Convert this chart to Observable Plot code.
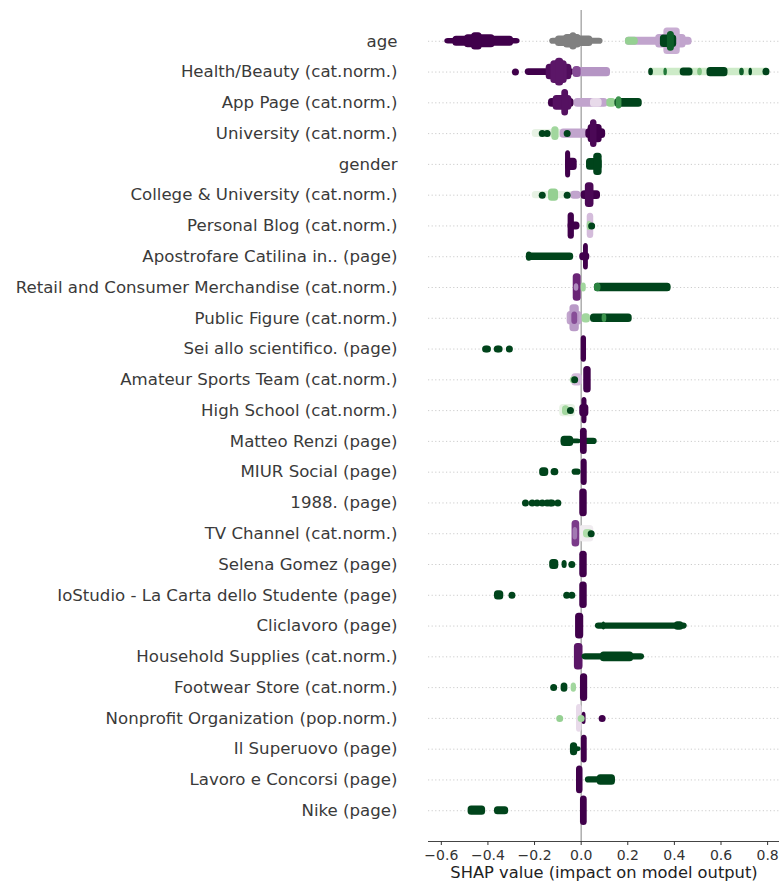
<!DOCTYPE html>
<html>
<head>
<meta charset="utf-8">
<script src="https://cdn.jsdelivr.net/npm/d3@7"></script>
<script src="https://cdn.jsdelivr.net/npm/@observablehq/plot@0.6"></script>
<style>
  html, body { margin: 0; padding: 0; background: #fff; }
  #chart { width: 779px; height: 885px; }
</style>
</head>
<body>
<div id="chart"></div>
<script>
// Feature names, top to bottom
const features = [
  "age",
  "Health/Beauty (cat.norm.)",
  "App Page (cat.norm.)",
  "University (cat.norm.)",
  "gender",
  "College & University (cat.norm.)",
  "Personal Blog (cat.norm.)",
  "Apostrofare Catilina in.. (page)",
  "Retail and Consumer Merchandise (cat.norm.)",
  "Public Figure (cat.norm.)",
  "Sei allo scientifico. (page)",
  "Amateur Sports Team (cat.norm.)",
  "High School (cat.norm.)",
  "Matteo Renzi (page)",
  "MIUR Social (page)",
  "1988. (page)",
  "TV Channel (cat.norm.)",
  "Selena Gomez (page)",
  "IoStudio - La Carta dello Studente (page)",
  "Cliclavoro (page)",
  "Household Supplies (cat.norm.)",
  "Footwear Store (cat.norm.)",
  "Nonprofit Organization (pop.norm.)",
  "Il Superuovo (page)",
  "Lavoro e Concorsi (page)",
  "Nike (page)"
];

// Dense swarm regions: [feature, shapFrom, shapTo, halfThickness (rows), featureValue 0=low..1=high]
const swarmBands = [
  ["age", -0.585, -0.262, 0.09, 0.0],
  ["age", -0.55, -0.29, 0.16, 0.0],
  ["age", -0.50, -0.37, 0.21, 0.0],
  ["age", -0.47, -0.425, 0.28, 0.0],
  ["age", 0.19, 0.476, 0.13, 0.3],
  ["age", 0.19, 0.245, 0.13, 0.72],
  ["age", 0.32, 0.45, 0.22, 0.3],
  ["age", 0.355, 0.425, 0.43, 0.32],
  ["age", 0.34, 0.41, 0.2, 1.0],
  ["age", 0.37, 0.40, 0.32, 0.95],

  ["Health/Beauty (cat.norm.)", -0.24, -0.03, 0.11, 0.0],
  ["Health/Beauty (cat.norm.)", -0.15, -0.04, 0.25, 0.03],
  ["Health/Beauty (cat.norm.)", -0.13, -0.06, 0.37, 0.05],
  ["Health/Beauty (cat.norm.)", -0.11, -0.075, 0.45, 0.05],
  ["Health/Beauty (cat.norm.)", -0.035, 0.126, 0.15, 0.27],
  ["Health/Beauty (cat.norm.)", -0.035, 0.0, 0.18, 0.15],
  ["Health/Beauty (cat.norm.)", 0.29, 0.81, 0.12, 0.62],
  ["Health/Beauty (cat.norm.)", 0.29, 0.31, 0.12, 1.0],
  ["Health/Beauty (cat.norm.)", 0.355, 0.37, 0.12, 0.9],
  ["Health/Beauty (cat.norm.)", 0.425, 0.48, 0.13, 1.0],
  ["Health/Beauty (cat.norm.)", 0.50, 0.52, 0.12, 0.75],
  ["Health/Beauty (cat.norm.)", 0.54, 0.63, 0.15, 1.0],
  ["Health/Beauty (cat.norm.)", 0.68, 0.70, 0.12, 0.95],
  ["Health/Beauty (cat.norm.)", 0.72, 0.735, 0.12, 1.0],
  ["Health/Beauty (cat.norm.)", 0.78, 0.81, 0.12, 1.0],

  ["App Page (cat.norm.)", -0.14, -0.03, 0.14, 0.0],
  ["App Page (cat.norm.)", -0.12, -0.04, 0.24, 0.04],
  ["App Page (cat.norm.)", -0.083, -0.054, 0.43, 0.04],
  ["App Page (cat.norm.)", -0.03, 0.115, 0.14, 0.3],
  ["App Page (cat.norm.)", 0.04, 0.09, 0.14, 0.42],
  ["App Page (cat.norm.)", 0.11, 0.15, 0.14, 0.72],
  ["App Page (cat.norm.)", 0.145, 0.262, 0.14, 1.0],
  ["App Page (cat.norm.)", 0.15, 0.175, 0.2, 0.85],

  ["University (cat.norm.)", -0.21, -0.06, 0.13, 0.55],
  ["University (cat.norm.)", -0.126, -0.095, 0.22, 0.7],
  ["University (cat.norm.)", -0.09, 0.03, 0.15, 0.3],
  ["University (cat.norm.)", 0.02, 0.105, 0.16, 0.0],
  ["University (cat.norm.)", 0.03, 0.09, 0.3, 0.0],
  ["University (cat.norm.)", 0.04, 0.068, 0.45, 0.02],

  ["gender", -0.067, -0.017, 0.2, 0.0],
  ["gender", -0.067, -0.045, 0.44, 0.0],
  ["gender", 0.023, 0.09, 0.19, 1.0],
  ["gender", 0.054, 0.09, 0.36, 1.0],

  ["College & University (cat.norm.)", -0.21, -0.03, 0.12, 0.55],
  ["College & University (cat.norm.)", -0.14, -0.097, 0.2, 0.72],
  ["College & University (cat.norm.)", -0.045, 0.0, 0.13, 0.3],
  ["College & University (cat.norm.)", 0.0, 0.083, 0.14, 0.0],
  ["College & University (cat.norm.)", 0.018, 0.055, 0.4, 0.02],

  ["Personal Blog (cat.norm.)", -0.056, -0.005, 0.13, 0.0],
  ["Personal Blog (cat.norm.)", -0.056, -0.029, 0.43, 0.0],
  ["Personal Blog (cat.norm.)", 0.026, 0.054, 0.41, 0.35],
  ["Personal Blog (cat.norm.)", 0.026, 0.045, 0.15, 0.7],

  ["Apostrofare Catilina in.. (page)", -0.235, -0.032, 0.12, 1.0],
  ["Apostrofare Catilina in.. (page)", -0.235, -0.21, 0.15, 1.0],
  ["Apostrofare Catilina in.. (page)", -0.006, 0.037, 0.13, 0.0],
  ["Apostrofare Catilina in.. (page)", 0.01, 0.031, 0.43, 0.0],

  ["Retail and Consumer Merchandise (cat.norm.)", -0.034, 0.0, 0.45, 0.08],
  ["Retail and Consumer Merchandise (cat.norm.)", -0.03, -0.01, 0.12, 0.25],
  ["Retail and Consumer Merchandise (cat.norm.)", 0.0, 0.022, 0.15, 0.7],
  ["Retail and Consumer Merchandise (cat.norm.)", 0.057, 0.386, 0.14, 1.0],
  ["Retail and Consumer Merchandise (cat.norm.)", 0.057, 0.085, 0.14, 0.88],

  ["Public Figure (cat.norm.)", -0.06, 0.004, 0.22, 0.3],
  ["Public Figure (cat.norm.)", -0.048, -0.008, 0.44, 0.28],
  ["Public Figure (cat.norm.)", -0.04, -0.015, 0.2, 0.15],
  ["Public Figure (cat.norm.)", 0.004, 0.04, 0.15, 0.7],
  ["Public Figure (cat.norm.)", 0.04, 0.219, 0.14, 1.0],
  ["Public Figure (cat.norm.)", 0.09, 0.11, 0.14, 0.85],

  ["Sei allo scientifico. (page)", 0.0, 0.023, 0.43, 0.0],

  ["Amateur Sports Team (cat.norm.)", -0.04, 0.005, 0.2, 0.35],
  ["Amateur Sports Team (cat.norm.)", 0.011, 0.043, 0.43, 0.0],

  ["High School (cat.norm.)", -0.092, -0.024, 0.2, 0.55],
  ["High School (cat.norm.)", -0.08, -0.05, 0.16, 0.7],
  ["High School (cat.norm.)", -0.006, 0.033, 0.2, 0.0],
  ["High School (cat.norm.)", 0.003, 0.025, 0.43, 0.0],

  ["Matteo Renzi (page)", -0.086, 0.0, 0.08, 1.0],
  ["Matteo Renzi (page)", -0.086, -0.032, 0.17, 1.0],
  ["Matteo Renzi (page)", 0.0, 0.069, 0.1, 1.0],
  ["Matteo Renzi (page)", -0.003, 0.026, 0.43, 0.0],

  ["MIUR Social (page)", -0.178, -0.139, 0.14, 1.0],
  ["MIUR Social (page)", -0.129, -0.096, 0.12, 1.0],
  ["MIUR Social (page)", -0.039, 0.0, 0.1, 1.0],
  ["MIUR Social (page)", 0.0, 0.026, 0.43, 0.0],

  ["1988. (page)", -0.006, 0.026, 0.45, 0.0],

  ["TV Channel (cat.norm.)", -0.006, 0.054, 0.27, 0.48],
  ["TV Channel (cat.norm.)", 0.01, 0.05, 0.14, 0.68],
  ["TV Channel (cat.norm.)", -0.039, -0.006, 0.43, 0.12],
  ["TV Channel (cat.norm.)", -0.035, -0.015, 0.2, 0.22],

  ["Selena Gomez (page)", -0.135, -0.096, 0.16, 1.0],
  ["Selena Gomez (page)", -0.082, -0.06, 0.13, 1.0],
  ["Selena Gomez (page)", -0.006, 0.026, 0.43, 0.0],

  ["IoStudio - La Carta dello Studente (page)", -0.372, -0.332, 0.15, 1.0],
  ["IoStudio - La Carta dello Studente (page)", -0.006, 0.026, 0.43, 0.0],

  ["Cliclavoro (page)", -0.024, 0.011, 0.42, 0.0],
  ["Cliclavoro (page)", 0.061, 0.455, 0.1, 1.0],
  ["Cliclavoro (page)", 0.40, 0.44, 0.14, 1.0],
  ["Cliclavoro (page)", 0.09, 0.105, 0.13, 1.0],

  ["Household Supplies (cat.norm.)", -0.029, 0.008, 0.43, 0.05],
  ["Household Supplies (cat.norm.)", 0.004, 0.272, 0.1, 1.0],
  ["Household Supplies (cat.norm.)", 0.083, 0.225, 0.16, 1.0],

  ["Footwear Store (cat.norm.)", -0.086, -0.057, 0.15, 1.0],
  ["Footwear Store (cat.norm.)", -0.043, -0.02, 0.15, 0.7],
  ["Footwear Store (cat.norm.)", -0.003, 0.028, 0.45, 0.0],

  ["Nonprofit Organization (pop.norm.)", -0.02, 0.004, 0.45, 0.42],
  ["Nonprofit Organization (pop.norm.)", 0.004, 0.021, 0.2, 0.0],

  ["Il Superuovo (page)", -0.046, 0.0, 0.08, 1.0],
  ["Il Superuovo (page)", -0.046, -0.015, 0.21, 1.0],
  ["Il Superuovo (page)", 0.001, 0.026, 0.45, 0.0],

  ["Lavoro e Concorsi (page)", -0.02, 0.008, 0.45, 0.0],
  ["Lavoro e Concorsi (page)", 0.018, 0.147, 0.1, 1.0],
  ["Lavoro e Concorsi (page)", 0.069, 0.147, 0.17, 1.0],

  ["Nike (page)", -0.485, -0.41, 0.15, 1.0],
  ["Nike (page)", -0.372, -0.311, 0.13, 1.0],
  ["Nike (page)", -0.003, 0.026, 0.48, 0.0]
];

// Points with missing feature value (drawn grey): [feature, from, to, halfThickness]
const missingBands = [
  ["age", -0.135, 0.094, 0.1],
  ["age", -0.11, 0.05, 0.17],
  ["age", -0.075, 0.0, 0.22],
  ["age", -0.048, -0.018, 0.28]
];

// Isolated points: [feature, shap, featureValue]
const singlePoints = [
  ["Health/Beauty (cat.norm.)", -0.282, 0.0],
  ["University (cat.norm.)", -0.167, 1.0],
  ["University (cat.norm.)", -0.146, 1.0],
  ["University (cat.norm.)", -0.06, 1.0],
  ["College & University (cat.norm.)", -0.167, 1.0],
  ["College & University (cat.norm.)", -0.06, 1.0],
  ["Personal Blog (cat.norm.)", 0.045, 1.0],
  ["Sei allo scientifico. (page)", -0.41, 1.0],
  ["Sei allo scientifico. (page)", -0.402, 1.0],
  ["Sei allo scientifico. (page)", -0.36, 1.0],
  ["Sei allo scientifico. (page)", -0.352, 1.0],
  ["Sei allo scientifico. (page)", -0.308, 1.0],
  ["Amateur Sports Team (cat.norm.)", -0.034, 0.7],
  ["Amateur Sports Team (cat.norm.)", -0.028, 1.0],
  ["High School (cat.norm.)", -0.046, 1.0],
  ["1988. (page)", -0.239, 1.0],
  ["1988. (page)", -0.21, 1.0],
  ["1988. (page)", -0.189, 1.0],
  ["1988. (page)", -0.167, 1.0],
  ["1988. (page)", -0.146, 1.0],
  ["1988. (page)", -0.133, 1.0],
  ["1988. (page)", -0.125, 1.0],
  ["1988. (page)", -0.1, 1.0],
  ["TV Channel (cat.norm.)", 0.043, 1.0],
  ["Selena Gomez (page)", -0.04, 1.0],
  ["IoStudio - La Carta dello Studente (page)", -0.297, 1.0],
  ["IoStudio - La Carta dello Studente (page)", -0.062, 1.0],
  ["IoStudio - La Carta dello Studente (page)", -0.04, 1.0],
  ["Footwear Store (cat.norm.)", -0.118, 1.0],
  ["Nonprofit Organization (pop.norm.)", -0.092, 0.72],
  ["Nonprofit Organization (pop.norm.)", 0.0, 0.7],
  ["Nonprofit Organization (pop.norm.)", 0.09, 0.0]
];

const xTicks = [-0.6, -0.4, -0.2, 0.0, 0.2, 0.4, 0.6, 0.8];
const xLabel = "SHAP value (impact on model output)";

const idx = f => features.indexOf(f);
const bands = swarmBands.map(([f, x1, x2, h, c]) => ({i: idx(f), x1, x2, h, c}));
const missing = missingBands.map(([f, x1, x2, h]) => ({i: idx(f), x1, x2, h}));
const points = singlePoints.map(([f, x, c]) => ({i: idx(f), x, c}));

const chart = Plot.plot({
  width: 779,
  height: 885,
  marginLeft: 428,
  marginRight: 0,
  marginTop: 10,
  marginBottom: 44,
  style: {fontFamily: "DejaVu Sans, sans-serif", background: "#fff"},
  x: {domain: [-0.655, 0.851]},
  y: {domain: [-1, features.length], reverse: true},
  color: {type: "linear", scheme: "PRGn", domain: [0, 1]},
  marks: [
    Plot.ruleY(d3.range(features.length), {stroke: "#cccccc", strokeDasharray: "1.2,2.4", strokeWidth: 1}),
    Plot.ruleX([0], {stroke: "#999999", strokeWidth: 1.2}),
    Plot.rect(missing, {x1: "x1", x2: "x2", y1: d => d.i - d.h, y2: d => d.i + d.h, fill: "#808080", rx: 3.5}),
    Plot.rect(bands, {x1: "x1", x2: "x2", y1: d => d.i - d.h, y2: d => d.i + d.h, fill: "c", rx: 3.5}),
    Plot.dot(points, {x: "x", y: "i", r: 3.5, fill: "c"}),
    Plot.ruleY([features.length], {stroke: "#444", strokeWidth: 1}),
    Plot.axisY({ticks: d3.range(features.length), tickFormat: i => features[i], tickSize: 0, tickPadding: 31, fontSize: 16.6, color: "#3a3a3a", label: null}),
    Plot.axisX({ticks: xTicks, tickFormat: d3.format(".1f"), tickSize: 4, tickPadding: 5, fontSize: 14, color: "#333", label: null}),
    Plot.text([xLabel], {text: d => d, frameAnchor: "bottom", dy: 36, fontSize: 16.3, fill: "#222"})
  ]
});
document.getElementById("chart").appendChild(chart);
</script>
</body>
</html>
